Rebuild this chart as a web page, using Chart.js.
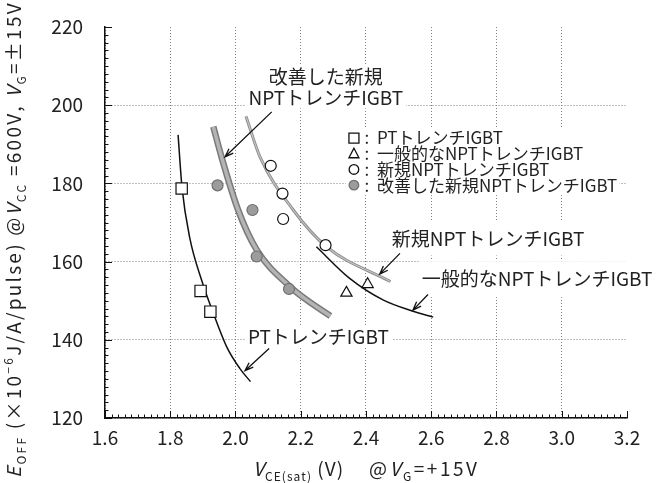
<!DOCTYPE html>
<html>
<head>
<meta charset="utf-8">
<script src="https://cdn.jsdelivr.net/npm/chart.js@4"></script>
<style>
  body { margin: 0; background: #fff; }
  canvas { display: block; }
</style>
</head>
<body>
<canvas id="chart" width="670" height="483"></canvas>
<script>
const FONT = '"Noto Sans CJK JP", "Noto Sans", sans-serif';

// axis ranges / ticks
const xTicks = [1.6, 1.8, 2.0, 2.2, 2.4, 2.6, 2.8, 3.0, 3.2];
const yTicks = [120, 140, 160, 180, 200, 220];

// measured points
const ptX = [1.835, 1.893, 1.923];
const ptY = [178.7, 152.5, 147.2];
const convX = [2.340, 2.405];
const convY = [152.0, 154.2];
const newX = [2.108, 2.144, 2.146, 2.276];
const newY = [184.5, 177.4, 170.9, 164.2];
const impX = [1.945, 2.052, 2.065, 2.164];
const impY = [179.5, 173.2, 161.3, 153.0];

// fitted curves drawn in the figure
const ptCurveX = [1.824, 1.836, 1.860, 1.896, 1.932, 1.973, 2.013, 2.046];
const ptCurveY = [192.4, 179.0, 166.0, 155.3, 146.8, 138.2, 132.7, 129.3];
const impCurveX = [1.932, 1.958, 2.008, 2.065, 2.167, 2.218, 2.291];
const impCurveY = [194.5, 186.5, 173.2, 163.0, 153.6, 150.2, 146.1];
const newCurveX = [2.032, 2.075, 2.177, 2.279, 2.475];
const newCurveY = [197.2, 186.8, 173.2, 163.8, 154.9];
const convCurveX = [2.248, 2.350, 2.452, 2.544, 2.606];
const convCurveY = [163.8, 155.7, 150.2, 147.3, 145.8];

const legendLabels = ['PTトレンチIGBT', '一般的なNPTトレンチIGBT', '新規NPTトレンチIGBT', '改善した新規NPTトレンチIGBT'];

const pts = (xs, ys) => xs.map((x, i) => ({ x, y: ys[i] }));

const markerStyles = [
  { style: 'rect', r: 8, bg: '#fff', border: '#111' },
  { style: 'triangle', r: 6.5, bg: '#fff', border: '#111' },
  { style: 'circle', r: 5.5, bg: '#fff', border: '#111' },
  { style: 'circle', r: 5.5, bg: '#9c9c9c', border: '#707070' }
];

function markerSet(xs, ys, m) {
  return {
    data: pts(xs, ys), showLine: false,
    pointStyle: m.style, pointRadius: m.r, pointBackgroundColor: m.bg,
    pointBorderColor: m.border, pointBorderWidth: 1.2
  };
}

function curveSet(xs, ys, color, width) {
  return {
    data: pts(xs, ys), showLine: true, pointRadius: 0,
    borderColor: color, borderWidth: width,
    cubicInterpolationMode: 'monotone', borderCapStyle: 'butt'
  };
}

// rich text (sub / sup / italic), spread out to a given width
function drawRich(ctx, segs, x, y, size, width) {
  const fontFor = s => `${s.i ? 'italic ' : ''}${(s.sub || s.sup) ? Math.round(size * 0.62) : size}px ${FONT}`;
  let total = 0, n = 0;
  segs.forEach(s => { ctx.font = fontFor(s); total += ctx.measureText(s.t).width; n += [...s.t].length; });
  const extra = width ? (width - total) / (n - 1) : 0;
  let cx = x;
  ctx.textAlign = 'left';
  segs.forEach(s => {
    ctx.font = fontFor(s);
    const dy = s.sub ? size * 0.25 : s.sup ? -size * 0.42 : 0;
    [...s.t].forEach(ch => {
      ctx.fillText(ch, cx, y + dy);
      cx += ctx.measureText(ch).width + extra;
    });
  });
}

// text labels with arrows, placed in data units
const notes = [
  { text: '改善した新規', x: 2.277, y: 207.2, align: 'center' },
  { text: 'NPTトレンチIGBT', x: 2.277, y: 202.0, align: 'center' },
  { text: '新規NPTトレンチIGBT', x: 2.479, y: 165.9, align: 'left', padY: 8 },
  { text: '一般的なNPTトレンチIGBT', x: 2.571, y: 155.5, align: 'left', padY: 9 },
  { text: 'PTトレンチIGBT', x: 2.038, y: 140.7, align: 'left' }
];
const arrows = [
  [2.111, 198.3, 1.968, 186.8],
  [2.504, 162.1, 2.442, 156.8],
  [2.590, 151.6, 2.544, 147.6],
  [2.103, 137.8, 2.029, 132.1]
];

const decor = {
  id: 'decor',
  beforeDatasetsDraw(chart) {
    const { ctx, scales: { x, y } } = chart;
    ctx.save();
    // white patches behind labels
    ctx.fillStyle = '#fff';
    ctx.font = `19px ${FONT}`;
    notes.forEach(n => {
      const w = ctx.measureText(n.text).width;
      const px = x.getPixelForValue(n.x), py = y.getPixelForValue(n.y);
      const left = n.align === 'center' ? px - w / 2 : px;
      const pad = n.padY || 2;
      ctx.fillRect(left - 3, py - 9 - pad, w + 6, 18 + pad * 2);
    });
    ctx.font = `17px ${FONT}`;
    const lx = x.getPixelForValue(2.363), ly = y.getPixelForValue(191.6);
    const lw = Math.max(...legendLabels.map(t => ctx.measureText(t).width));
    ctx.fillRect(lx - 8, ly - 10, lw + 33, 15.7 * 3 + 20);
    ctx.restore();
  },
  afterDatasetsDraw(chart) {
    const { ctx, chartArea: a, scales: { x, y } } = chart;
    ctx.save();
    ctx.fillStyle = '#222';
    ctx.strokeStyle = '#111';

    // minor / major ticks pointing inward
    ctx.lineWidth = 1;
    ctx.beginPath();
    for (let i = 0; i <= 80; i++) {
      const px = Math.round(x.getPixelForValue(1.6 + i * 0.02)) + 0.5;
      const len = i % 10 === 0 ? 7 : 3.5;
      ctx.moveTo(px, a.bottom); ctx.lineTo(px, a.bottom - len);
    }
    for (let i = 0; i <= 50; i++) {
      const py = Math.round(y.getPixelForValue(120 + i * 2)) + 0.5;
      const len = i % 10 === 0 ? 7 : 3.5;
      ctx.moveTo(a.left, py); ctx.lineTo(a.left + len, py);
    }
    ctx.stroke();

    // labels
    ctx.textBaseline = 'middle';
    ctx.font = `19px ${FONT}`;
    notes.forEach(n => {
      ctx.textAlign = n.align;
      ctx.fillText(n.text, x.getPixelForValue(n.x), y.getPixelForValue(n.y));
    });

    // arrows
    ctx.lineWidth = 1.3;
    arrows.forEach(([x1, y1, x2, y2]) => {
      const ax = x.getPixelForValue(x1), ay = y.getPixelForValue(y1);
      const bx = x.getPixelForValue(x2), by = y.getPixelForValue(y2);
      const ang = Math.atan2(by - ay, bx - ax);
      ctx.beginPath();
      ctx.moveTo(ax, ay); ctx.lineTo(bx, by);
      ctx.moveTo(bx - 9 * Math.cos(ang - 0.35), by - 9 * Math.sin(ang - 0.35));
      ctx.lineTo(bx, by);
      ctx.lineTo(bx - 9 * Math.cos(ang + 0.35), by - 9 * Math.sin(ang + 0.35));
      ctx.stroke();
    });

    // legend
    const lx = x.getPixelForValue(2.363), ly = y.getPixelForValue(191.6);
    legendLabels.forEach((t, i) => {
      const m = markerStyles[i];
      const cy = ly + i * 15.7;
      ctx.fillStyle = m.bg; ctx.strokeStyle = m.border; ctx.lineWidth = 1.3;
      ctx.beginPath();
      if (m.style === 'rect') ctx.rect(lx - 5, cy - 5, 10, 10);
      else if (m.style === 'triangle') { ctx.moveTo(lx, cy - 5.5); ctx.lineTo(lx + 5, cy + 4); ctx.lineTo(lx - 5, cy + 4); ctx.closePath(); }
      else ctx.arc(lx, cy, 4.8, 0, Math.PI * 2);
      ctx.fill(); ctx.stroke();
      ctx.fillStyle = '#222';
      ctx.font = `17px ${FONT}`;
      ctx.textAlign = 'center';
      ctx.fillText(':', lx + 13, cy);
      ctx.textAlign = 'left';
      ctx.fillText(t, lx + 23, cy);
    });

    // axis titles
    ctx.textBaseline = 'alphabetic';
    drawRich(ctx, [{ t: 'V', i: true }, { t: 'CE(sat)', sub: true }, { t: ' (V)' }], 253, 476, 19, 90);
    drawRich(ctx, [{ t: '@' }, { t: 'V', i: true }, { t: 'G', sub: true }, { t: '=+15V' }], 369, 476, 19, 108);

    ctx.translate(21, 478);
    ctx.rotate(-Math.PI / 2);
    drawRich(ctx, [
      { t: 'E', i: true }, { t: 'OFF', sub: true }, { t: ' (×10' }, { t: '−6', sup: true },
      { t: 'J/A/pulse) @' }, { t: 'V', i: true }, { t: 'CC', sub: true }, { t: ' =600V, ' },
      { t: 'V', i: true }, { t: 'G', sub: true }, { t: '=±15V' }
    ], 0, 0, 19, 472);
    ctx.restore();
  }
};

const gridColor = max => c => (c.tick && Math.abs(c.tick.value - max) < 1e-6) ? 'rgba(0,0,0,0)' : '#808080';

new Chart(document.getElementById('chart'), {
  type: 'scatter',
  data: {
    datasets: [
      markerSet(ptX, ptY, markerStyles[0]),
      markerSet(convX, convY, markerStyles[1]),
      markerSet(newX, newY, markerStyles[2]),
      markerSet(impX, impY, markerStyles[3]),
      curveSet(ptCurveX, ptCurveY, '#111', 1.5),
      curveSet(convCurveX, convCurveY, '#111', 1.5),
      curveSet(newCurveX, newCurveY, '#c4c4c4', 1.2),
      curveSet(newCurveX, newCurveY, '#8c8c8c', 3),
      curveSet(impCurveX, impCurveY, '#b4b4b4', 3.5),
      curveSet(impCurveX, impCurveY, '#7a7a7a', 6.5)
    ]
  },
  options: {
    responsive: false,
    animation: false,
    events: [],
    layout: { padding: { top: 27, right: 43, bottom: 0, left: 0 } },
    plugins: { legend: { display: false }, tooltip: { enabled: false } },
    scales: {
      x: {
        type: 'linear', min: xTicks[0], max: xTicks[xTicks.length - 1],
        afterFit: s => { s.height = 65; },
        afterBuildTicks: s => { s.ticks = xTicks.map(v => ({ value: v })); },
        ticks: { callback: v => v.toFixed(1), padding: 8, color: '#222', font: { family: FONT, size: 19 }, maxRotation: 0 },
        grid: { color: gridColor(3.2), lineWidth: 1, drawTicks: false },
        border: { display: true, color: '#111', width: 1.5, dash: [1, 2] }
      },
      y: {
        type: 'linear', min: yTicks[0], max: yTicks[yTicks.length - 1],
        afterFit: s => { s.width = 105; s.paddingTop = 0; s.paddingBottom = 0; },
        afterBuildTicks: s => { s.ticks = yTicks.map(v => ({ value: v })); },
        ticks: { padding: 22, color: '#222', font: { family: FONT, size: 19 } },
        grid: { color: gridColor(220), lineWidth: 1, drawTicks: false },
        border: { display: true, color: '#111', width: 1.5, dash: [1, 2] }
      }
    }
  },
  plugins: [decor]
});
</script>
</body>
</html>
